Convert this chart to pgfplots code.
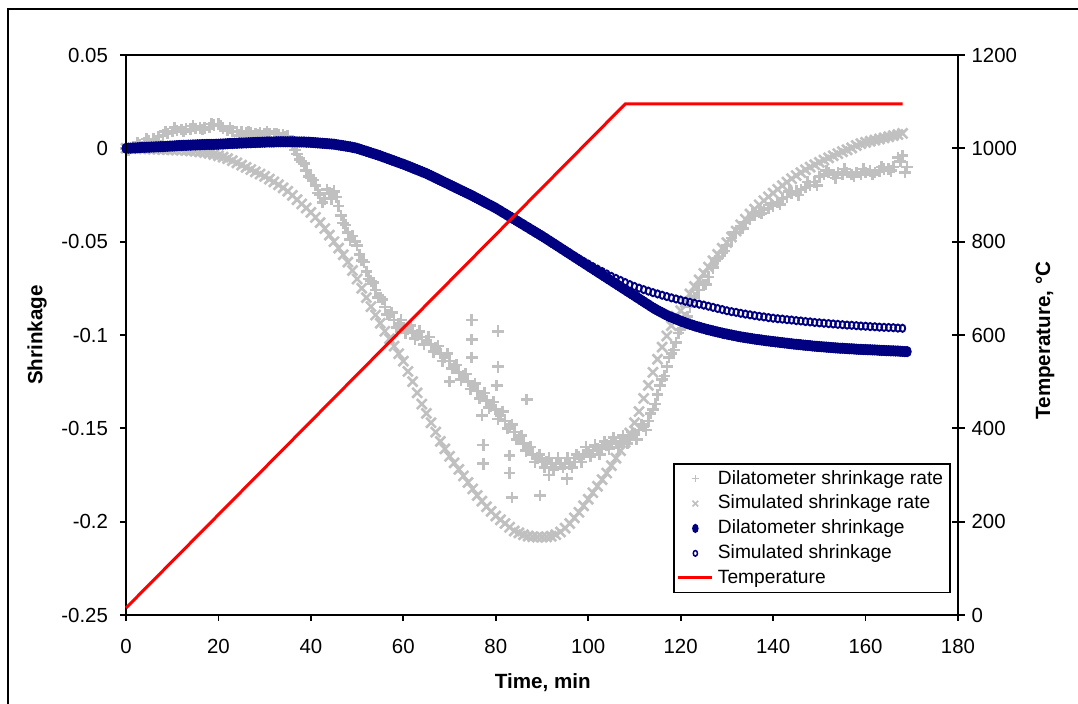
\documentclass[border=0pt]{standalone}
\usepackage{fontspec}
\setmainfont{Liberation Sans}
\usepackage{pgfplots}
\pgfplotsset{compat=1.18}
\definecolor{silv}{RGB}{192,192,192}
\definecolor{navyb}{RGB}{0,0,128}
\begin{document}
\begin{tikzpicture}
\useasboundingbox (0,0) rectangle (539pt,352pt);
\draw[line width=1pt] (4pt,-20pt) rectangle (570pt,347.5pt);
\begin{axis}[at={(63pt,44.5pt)}, anchor=south west, scale only axis,
  width=416pt, height=280pt,
  xmin=0, xmax=180, ymin=-0.25, ymax=0.05, clip=false,
  xtick={0,20,...,180}, xticklabels={0,20,40,60,80,100,120,140,160,180},
  ytick={-0.25,-0.2,-0.15,-0.1,-0.05,0,0.05},
  yticklabels={-0.25,-0.2,-0.15,-0.1,-0.05,0,0.05},
  tick pos=left, tick align=outside, major tick length=3pt,
  axis line style={line width=0.9pt}, tick style={line width=0.9pt, black},
  ticklabel style={font=\fontsize{10.2}{12}\selectfont},
  xticklabel style={yshift=-5.5pt}, yticklabel style={xshift=-2.5pt},
  xlabel={Time, min}, ylabel={Shrinkage},
  label style={font=\bfseries\fontsize{10.3}{12}\selectfont},
  xlabel style={at={(axis description cs:0.501,-0.1214)}, anchor=center},
  ylabel style={at={(axis description cs:-0.1070,0.5)}, anchor=center},
]
% dilatometer shrinkage rate (scaled)
\addplot[only marks, mark=+, mark size=2.9pt, mark options={silv, line width=1.3pt}] coordinates {
(0,0.000) (1,0.000) (2,0.001) (3,0.002) (4,0.003) (5,0.004) (6,0.005) (7,0.006) (8,0.007) (9,0.008)
(10,0.009) (11,0.0095) (12,0.010) (13,0.0102) (14,0.0104) (15,0.0106) (16,0.0108) (17,0.011) (18,0.0112) (19,0.0125)
(20,0.013) (21,0.011) (22,0.0095) (23,0.0092) (24,0.009) (25,0.0088) (26,0.0085) (27,0.0082) (28,0.008) (29,0.0082)
(30,0.008) (31,0.0078) (32,0.0076) (33,0.0075) (34,0.0072) (35,0.0065) (36,0.002) (37,-0.003) (38,-0.007) (39,-0.012)
(40,-0.016) (41,-0.020) (42,-0.025) (43,-0.027) (44,-0.024) (45,-0.023) (46,-0.031) (47,-0.040) (48,-0.045) (49,-0.047)
(50,-0.052) (51,-0.060) (52,-0.066) (53,-0.071) (54,-0.076) (55,-0.080) (56,-0.085) (57,-0.089) (58,-0.092) (59,-0.094)
(60,-0.096) (61,-0.097) (62,-0.098) (63,-0.100) (64,-0.101) (65,-0.103) (66,-0.105) (67,-0.107) (68,-0.110) (69,-0.112)
(70,-0.114) (71,-0.117) (72,-0.120) (73,-0.122) (74,-0.125) (75,-0.127) (76,-0.130) (77,-0.133) (78,-0.135) (79,-0.138)
(80,-0.140) (81,-0.143) (82,-0.146) (83,-0.149) (84,-0.152) (85,-0.155) (86,-0.158) (87,-0.161) (88,-0.164) (89,-0.166)
(90,-0.167) (91,-0.168) (92,-0.169) (93,-0.169) (94,-0.169) (95,-0.169) (96,-0.169) (97,-0.168) (98,-0.165) (99,-0.164)
(100,-0.163) (101,-0.162) (102,-0.161) (103,-0.160) (104,-0.159) (105,-0.158) (106,-0.158) (107,-0.157) (108,-0.156) (109,-0.155)
(110,-0.153) (111,-0.151) (112,-0.149) (113,-0.146) (114,-0.140) (115,-0.132) (116,-0.124) (117,-0.117) (118,-0.110) (119,-0.104)
(120,-0.097) (121,-0.091) (122,-0.085) (123,-0.080) (124,-0.076) (125,-0.073) (126,-0.069) (127,-0.064) (128,-0.059) (129,-0.056)
(130,-0.052) (131,-0.048) (132,-0.045) (133,-0.042) (134,-0.040) (135,-0.038) (136,-0.036) (137,-0.034) (138,-0.033) (139,-0.032)
(140,-0.031) (141,-0.029) (142,-0.027) (143,-0.026) (144,-0.024) (145,-0.023) (146,-0.022) (147,-0.021) (148,-0.020) (149,-0.018)
(150,-0.015) (151,-0.014) (152,-0.013) (153,-0.014) (154,-0.013) (155,-0.014) (156,-0.013) (157,-0.014) (158,-0.013) (159,-0.014)
(160,-0.013) (161,-0.012) (162,-0.013) (163,-0.012) (164,-0.011) (165,-0.011) (166,-0.010) (167,-0.005) (168,-0.004) (169,-0.010)
(0.5,-0.001) (2.5,0.003) (4.5,0.005) (6.5,0.004) (8.5,0.009) (10.5,0.011) (12.5,0.009) (14.5,0.012) (16.5,0.010) (18.5,0.013)
(20.5,0.012) (22.5,0.011) (24.5,0.007) (26.5,0.009) (28.5,0.007) (30.5,0.009) (32.5,0.008) (34.5,0.006)
(36.5,-0.001) (37.5,-0.006) (38.5,-0.008) (39.5,-0.015) (40.5,-0.017) (41.5,-0.024) (42.5,-0.029) (43.5,-0.022) (44.5,-0.027) (45.5,-0.026)
(46.5,-0.036) (47.5,-0.041) (48.5,-0.049) (49.5,-0.050) (50.5,-0.057) (51.5,-0.061) (52.5,-0.070) (53.5,-0.072) (54.5,-0.080) (55.5,-0.081)
(56.5,-0.089) (57.5,-0.088) (58.5,-0.096) (59.5,-0.092) (60.5,-0.099) (61.5,-0.095) (62.5,-0.102) (63.5,-0.098) (64.5,-0.105) (65.5,-0.101)
(66.5,-0.109) (67.5,-0.106) (68.5,-0.114) (69.5,-0.110) (70.5,-0.118) (71.5,-0.116) (72.5,-0.124) (73.5,-0.121) (74.5,-0.129) (75.5,-0.126)
(76.5,-0.134) (77.5,-0.131) (78.5,-0.139) (79.5,-0.136) (80.5,-0.145) (81.5,-0.141) (82.5,-0.150) (83.5,-0.148) (84.5,-0.156) (85.5,-0.154)
(86.5,-0.162) (87.5,-0.160) (88.5,-0.168) (89.5,-0.164) (90.5,-0.171) (91.5,-0.166) (92.5,-0.172) (93.5,-0.166) (94.5,-0.171) (95.5,-0.166)
(96.5,-0.171) (97.5,-0.164) (98.5,-0.168) (99.5,-0.160) (100.5,-0.165) (101.5,-0.159) (102.5,-0.164) (103.5,-0.157) (104.5,-0.161) (105.5,-0.155)
(106.5,-0.160) (107.5,-0.154) (108.5,-0.158) (109.5,-0.152) (110.5,-0.156) (111.5,-0.148) (112.5,-0.151) (113.5,-0.142) (114.5,-0.137) (115.5,-0.127)
(116.5,-0.122) (117.5,-0.112) (118.5,-0.108) (119.5,-0.099)
(121.5,-0.090) (123.5,-0.076) (125.5,-0.073) (127.5,-0.060) (129.5,-0.055) (131.5,-0.045) (133.5,-0.043) (135.5,-0.035) (137.5,-0.035) (139.5,-0.030)
(141.5,-0.030) (143.5,-0.023) (145.5,-0.025) (147.5,-0.018) (149.5,-0.020) (151.5,-0.012) (153.5,-0.016) (155.5,-0.011) (157.5,-0.015) (159.5,-0.011)
(161.5,-0.014) (163.5,-0.010) (165.5,-0.012) (167.5,-0.007) (168.5,-0.013)
(74.8,-0.092) (74.8,-0.1025) (74.8,-0.112) (80.5,-0.098) (80.5,-0.117) (80.2,-0.127) (86.7,-0.1345) (77.3,-0.159) (77.3,-0.169)
(83,-0.1645) (83,-0.174) (83.5,-0.187) (89.6,-0.186) (91.5,-0.175) (95.4,-0.177) (70,-0.125) (77,-0.143)
};
% simulated shrinkage rate (scaled)
\addplot[only marks, mark=x, mark size=3.5pt, mark options={silv, line width=1.3pt}] coordinates {
(0,0.0000) (1,0.0000) (2,-0.0001) (3,-0.0001) (4,-0.0002) (5,-0.0003) (6,-0.0004) (7,-0.0005) (8,-0.0006) (9,-0.0007)
(10,-0.0008) (11,-0.0009) (12,-0.0010) (13,-0.0012) (14,-0.0014) (15,-0.0016) (16,-0.0019) (17,-0.0022) (18,-0.0027) (19,-0.0033)
(20,-0.0040) (21,-0.0047) (22,-0.0055) (23,-0.0066) (24,-0.0078) (25,-0.0090) (26,-0.0102) (27,-0.0114) (28,-0.0126) (29,-0.0138)
(30,-0.0150) (31,-0.0165) (32,-0.0180) (33,-0.0195) (34,-0.0212) (35,-0.0230) (36,-0.0252) (37,-0.0275) (38,-0.0298) (39,-0.0320)
(40,-0.0343) (41,-0.0370) (42,-0.0398) (43,-0.0430) (44,-0.0465) (45,-0.0500) (46,-0.0535) (47,-0.0570) (48,-0.0610) (49,-0.0655)
(50,-0.0700) (51,-0.0750) (52,-0.0800) (53,-0.0848) (54,-0.0893) (55,-0.0937) (56,-0.0980) (57,-0.1020) (58,-0.1060) (59,-0.1100)
(60,-0.1140) (61,-0.1195) (62,-0.1250) (63,-0.1310) (64,-0.1370) (65,-0.1420) (66,-0.1470) (67,-0.1520) (68,-0.1570) (69,-0.1610)
(70,-0.1650) (71,-0.1685) (72,-0.1720) (73,-0.1755) (74,-0.1790) (75,-0.1825) (76,-0.1860) (77,-0.1890) (78,-0.1920) (79,-0.1945)
(80,-0.1970) (81,-0.1990) (82,-0.2010) (83,-0.2030) (84,-0.2050) (85,-0.2060) (86,-0.2070) (87,-0.2077) (88,-0.2081) (89,-0.2083)
(90,-0.2083) (91,-0.2082) (92,-0.2078) (93,-0.2070) (94,-0.2055) (95,-0.2035) (96,-0.2010) (97,-0.1980) (98,-0.1950) (99,-0.1915)
(100,-0.1880) (101,-0.1845) (102,-0.1810) (103,-0.1775) (104,-0.1740) (105,-0.1700) (106,-0.1660) (107,-0.1620) (108,-0.1575) (109,-0.1525)
(110,-0.1470) (111,-0.1410) (112,-0.1340) (113,-0.1270) (114,-0.1200) (115,-0.1130) (116,-0.1065) (117,-0.1005) (118,-0.0950) (119,-0.0900)
(120,-0.0870) (121,-0.0825) (122,-0.0780) (123,-0.0740) (124,-0.0705) (125,-0.0670) (126,-0.0636) (127,-0.0602) (128,-0.0568) (129,-0.0535)
(130,-0.0505) (131,-0.0475) (132,-0.0443) (133,-0.0410) (134,-0.0380) (135,-0.0352) (136,-0.0326) (137,-0.0303) (138,-0.0281) (139,-0.0260)
(140,-0.0240) (141,-0.0220) (142,-0.0200) (143,-0.0181) (144,-0.0163) (145,-0.0146) (146,-0.0130) (147,-0.0115) (148,-0.0101) (149,-0.0088)
(150,-0.0075) (151,-0.0063) (152,-0.0051) (153,-0.0040) (154,-0.0029) (155,-0.0018) (156,-0.0008) (157,0.0002) (158,0.0015) (159,0.0025)
(160,0.0032) (161,0.0038) (162,0.0044) (163,0.0050) (164,0.0056) (165,0.0062) (166,0.0068) (167,0.0074) (168,0.0080)
};
% dilatometer shrinkage
\addplot[only marks, mark=*, mark size=2.6pt, mark options={navyb, xscale=0.8}] coordinates {
(0,0.0000) (1,0.0001) (2,0.0002) (3,0.0004) (4,0.0005) (5,0.0006) (6,0.0007) (7,0.0008) (8,0.0009) (9,0.0011)
(10,0.0012) (11,0.0014) (12,0.0015) (13,0.0016) (14,0.0017) (15,0.0018) (16,0.0019) (17,0.0020) (18,0.0021) (19,0.0021)
(20,0.0022) (21,0.0023) (22,0.0025) (23,0.0026) (24,0.0027) (25,0.0028) (26,0.0029) (27,0.0030) (28,0.0031) (29,0.0032)
(30,0.0033) (31,0.0034) (32,0.0034) (33,0.0035) (34,0.0035) (35,0.0035) (36,0.0035) (37,0.0034) (38,0.0034) (39,0.0033)
(40,0.0032) (41,0.0030) (42,0.0028) (43,0.0026) (44,0.0024) (45,0.0022) (46,0.0018) (47,0.0014) (48,0.0010) (49,0.0005)
(50,0.0000) (51,-0.0008) (52,-0.0016) (53,-0.0024) (54,-0.0032) (55,-0.0040) (56,-0.0049) (57,-0.0058) (58,-0.0067) (59,-0.0076)
(60,-0.0085) (61,-0.0095) (62,-0.0105) (63,-0.0115) (64,-0.0125) (65,-0.0135) (66,-0.0147) (67,-0.0159) (68,-0.0171) (69,-0.0183)
(70,-0.0195) (71,-0.0207) (72,-0.0219) (73,-0.0231) (74,-0.0243) (75,-0.0255) (76,-0.0268) (77,-0.0281) (78,-0.0294) (79,-0.0307)
(80,-0.0320) (81,-0.0335) (82,-0.0350) (83,-0.0365) (84,-0.0380) (85,-0.0395) (86,-0.0410) (87,-0.0425) (88,-0.0440) (89,-0.0455)
(90,-0.0470) (91,-0.0486) (92,-0.0502) (93,-0.0518) (94,-0.0534) (95,-0.0550) (96,-0.0566) (97,-0.0582) (98,-0.0598) (99,-0.0614)
(100,-0.0630) (101,-0.0646) (102,-0.0662) (103,-0.0678) (104,-0.0694) (105,-0.0710) (106,-0.0726) (107,-0.0742) (108,-0.0758) (109,-0.0774)
(110,-0.0790) (111,-0.0806) (112,-0.0822) (113,-0.0838) (114,-0.0854) (115,-0.0868) (116,-0.0881) (117,-0.0894) (118,-0.0905) (119,-0.0915)
(120,-0.0925) (121,-0.0934) (122,-0.0943) (123,-0.0951) (124,-0.0958) (125,-0.0965) (126,-0.0972) (127,-0.0978) (128,-0.0984) (129,-0.0990)
(130,-0.0995) (131,-0.1000) (132,-0.1005) (133,-0.1010) (134,-0.1014) (135,-0.1018) (136,-0.1022) (137,-0.1025) (138,-0.1029) (139,-0.1032)
(140,-0.1035) (141,-0.1038) (142,-0.1041) (143,-0.1044) (144,-0.1047) (145,-0.1050) (146,-0.1052) (147,-0.1055) (148,-0.1057) (149,-0.1060)
(150,-0.1062) (151,-0.1064) (152,-0.1066) (153,-0.1068) (154,-0.1070) (155,-0.1071) (156,-0.1073) (157,-0.1074) (158,-0.1076) (159,-0.1077)
(160,-0.1078) (161,-0.1079) (162,-0.1080) (163,-0.1082) (164,-0.1083) (165,-0.1084) (166,-0.1085) (167,-0.1086) (168,-0.1088) (169,-0.1089)
(0.5,0.0001) (1.5,0.0002) (2.5,0.0003) (3.5,0.0005) (4.5,0.0006) (5.5,0.0007) (6.5,0.0008) (7.5,0.0009) (8.5,0.0010) (9.5,0.0012)
(10.5,0.0013) (11.5,0.0015) (12.5,0.0016) (13.5,0.0017) (14.5,0.0018) (15.5,0.0019) (16.5,0.0020) (17.5,0.0021) (18.5,0.0021) (19.5,0.0022)
(20.5,0.0023) (21.5,0.0024) (22.5,0.0026) (23.5,0.0027) (24.5,0.0028) (25.5,0.0029) (26.5,0.0030) (27.5,0.0031) (28.5,0.0032) (29.5,0.0033)
(30.5,0.0034) (31.5,0.0034) (32.5,0.0035) (33.5,0.0035) (34.5,0.0035) (35.5,0.0035) (36.5,0.0035) (37.5,0.0034) (38.5,0.0034) (39.5,0.0033)
(40.5,0.0031) (41.5,0.0029) (42.5,0.0027) (43.5,0.0025) (44.5,0.0023) (45.5,0.0020) (46.5,0.0016) (47.5,0.0012) (48.5,0.0008) (49.5,0.0003)
(50.5,-0.0004) (51.5,-0.0012) (52.5,-0.0020) (53.5,-0.0028) (54.5,-0.0036) (55.5,-0.0045) (56.5,-0.0054) (57.5,-0.0063) (58.5,-0.0072) (59.5,-0.0081)
(60.5,-0.0090) (61.5,-0.0100) (62.5,-0.0110) (63.5,-0.0120) (64.5,-0.0130) (65.5,-0.0141) (66.5,-0.0153) (67.5,-0.0165) (68.5,-0.0177) (69.5,-0.0189)
(70.5,-0.0201) (71.5,-0.0213) (72.5,-0.0225) (73.5,-0.0237) (74.5,-0.0249) (75.5,-0.0262) (76.5,-0.0275) (77.5,-0.0288) (78.5,-0.0301) (79.5,-0.0314)
(80.5,-0.0328) (81.5,-0.0343) (82.5,-0.0358) (83.5,-0.0373) (84.5,-0.0388) (85.5,-0.0403) (86.5,-0.0418) (87.5,-0.0433) (88.5,-0.0448) (89.5,-0.0463)
(90.5,-0.0478) (91.5,-0.0494) (92.5,-0.0510) (93.5,-0.0526) (94.5,-0.0542) (95.5,-0.0558) (96.5,-0.0574) (97.5,-0.0590) (98.5,-0.0606) (99.5,-0.0622)
(100.5,-0.0638) (101.5,-0.0654) (102.5,-0.0670) (103.5,-0.0686) (104.5,-0.0702) (105.5,-0.0718) (106.5,-0.0734) (107.5,-0.0750) (108.5,-0.0766) (109.5,-0.0782)
(110.5,-0.0798) (111.5,-0.0814) (112.5,-0.0830) (113.5,-0.0846) (114.5,-0.0861) (115.5,-0.0875) (116.5,-0.0888) (117.5,-0.0900) (118.5,-0.0910) (119.5,-0.0920)
(120.5,-0.0930) (121.5,-0.0939) (122.5,-0.0947) (123.5,-0.0955) (124.5,-0.0962) (125.5,-0.0969) (126.5,-0.0975) (127.5,-0.0981) (128.5,-0.0987) (129.5,-0.0993)
(130.5,-0.0998) (131.5,-0.1003) (132.5,-0.1008) (133.5,-0.1012) (134.5,-0.1016) (135.5,-0.1020) (136.5,-0.1024) (137.5,-0.1027) (138.5,-0.1031) (139.5,-0.1034)
(140.5,-0.1037) (141.5,-0.1040) (142.5,-0.1043) (143.5,-0.1046) (144.5,-0.1049) (145.5,-0.1051) (146.5,-0.1054) (147.5,-0.1056) (148.5,-0.1059) (149.5,-0.1061)
(150.5,-0.1063) (151.5,-0.1065) (152.5,-0.1067) (153.5,-0.1069) (154.5,-0.1071) (155.5,-0.1072) (156.5,-0.1074) (157.5,-0.1075) (158.5,-0.1077) (159.5,-0.1078)
(160.5,-0.1079) (161.5,-0.1080) (162.5,-0.1081) (163.5,-0.1083) (164.5,-0.1084) (165.5,-0.1085) (166.5,-0.1086) (167.5,-0.1087) (168.5,-0.1089)
};
% simulated shrinkage
\addplot[only marks, mark=o, mark size=1.8pt, mark options={navyb, xscale=0.75, line width=0.95pt}] coordinates {
(0,0.0000) (2,0.0002) (4,0.0005) (6,0.0007) (8,0.0009) (10,0.0012) (12,0.0015) (14,0.0017) (16,0.0019) (18,0.0021)
(20,0.0022) (22,0.0025) (24,0.0027) (26,0.0029) (28,0.0031) (30,0.0033) (32,0.0034) (34,0.0035) (36,0.0035) (38,0.0034)
(40,0.0032) (42,0.0028) (44,0.0024) (46,0.0018) (48,0.0010) (50,0.0000) (52,-0.0016) (54,-0.0032) (56,-0.0049) (58,-0.0067)
(60,-0.0085) (62,-0.0105) (64,-0.0125) (66,-0.0147) (68,-0.0171) (70,-0.0195) (72,-0.0219) (74,-0.0243) (76,-0.0268) (78,-0.0294)
(80,-0.0320) (82,-0.0350) (84,-0.0380) (86,-0.0410) (88,-0.0440) (90,-0.0470) (92,-0.0502) (94,-0.0534)
(95,-0.0550) (96,-0.0564) (97,-0.0578) (98,-0.0592) (99,-0.0606) (100,-0.0620) (101,-0.0634) (102,-0.0647) (103,-0.0660) (104,-0.0673)
(105,-0.0686) (106,-0.0697) (107,-0.0708) (108,-0.0719) (109,-0.0730) (110,-0.0740) (111,-0.0749) (112,-0.0757) (113,-0.0765) (114,-0.0773)
(115,-0.0780) (116,-0.0787) (117,-0.0794) (118,-0.0801) (119,-0.0807) (120,-0.0813) (121,-0.0819) (122,-0.0825) (123,-0.0830) (124,-0.0835)
(125,-0.0840) (126,-0.0846) (127,-0.0852) (128,-0.0858) (129,-0.0864) (130,-0.0870) (131,-0.0875) (132,-0.0879) (133,-0.0884) (134,-0.0888)
(135,-0.0892) (136,-0.0896) (137,-0.0900) (138,-0.0903) (139,-0.0907) (140,-0.0910) (141,-0.0913) (142,-0.0915) (143,-0.0918) (144,-0.0920)
(145,-0.0923) (146,-0.0925) (147,-0.0928) (148,-0.0930) (149,-0.0933) (150,-0.0935) (151,-0.0937) (152,-0.0939) (153,-0.0941) (154,-0.0943)
(155,-0.0945) (156,-0.0947) (157,-0.0948) (158,-0.0950) (159,-0.0952) (160,-0.0953) (161,-0.0955) (162,-0.0956) (163,-0.0958) (164,-0.0959)
(165,-0.0960) (166,-0.0961) (167,-0.0963) (168,-0.0964)
};
\draw[line width=1.3pt] (rel axis cs:0,0) -- (rel axis cs:1,0);
\end{axis}
\begin{axis}[at={(63pt,44.5pt)}, anchor=south west, scale only axis,
  width=416pt, height=280pt,
  xmin=0, xmax=180, ymin=0, ymax=1200, clip=false,
  hide x axis, ytick pos=right,
  ytick={0,200,...,1200}, yticklabels={0,200,400,600,800,1000,1200},
  tick align=center, major tick length=6.5pt,
  axis line style={line width=0.9pt}, tick style={line width=0.9pt, black},
  ticklabel style={font=\fontsize{10.2}{12}\selectfont},
  ylabel={Temperature, °C},
  label style={font=\bfseries\fontsize{10.3}{12}\selectfont},
  ylabel style={at={(axis description cs:1.1046,0.49)}, anchor=center},
  legend cell align=left,
  legend style={at={(axis description cs:0.6575,0.2714)}, anchor=north west,
    draw=black, line width=0.75pt, fill=white,
    font=\fontsize{9.6}{11}\selectfont, row sep=0pt, inner xsep=1.5pt, inner ysep=1.2pt},
]
\addlegendimage{only marks, mark=+, mark size=1.6pt, mark options={silv, line width=0.8pt}}
\addlegendimage{only marks, mark=x, mark size=2pt, mark options={silv, line width=0.8pt}}
\addlegendimage{only marks, mark=*, mark size=1.9pt, mark options={navyb, xscale=0.65}}
\addlegendimage{only marks, mark=o, mark size=1.4pt, mark options={navyb, xscale=0.75, line width=0.75pt}}
\addplot[red, line width=1.5pt] coordinates {(0,15) (108,1095) (168,1095)};
\legend{Dilatometer shrinkage rate, Simulated shrinkage rate, Dilatometer shrinkage, Simulated shrinkage, Temperature}
\end{axis}
\end{tikzpicture}
\end{document}
